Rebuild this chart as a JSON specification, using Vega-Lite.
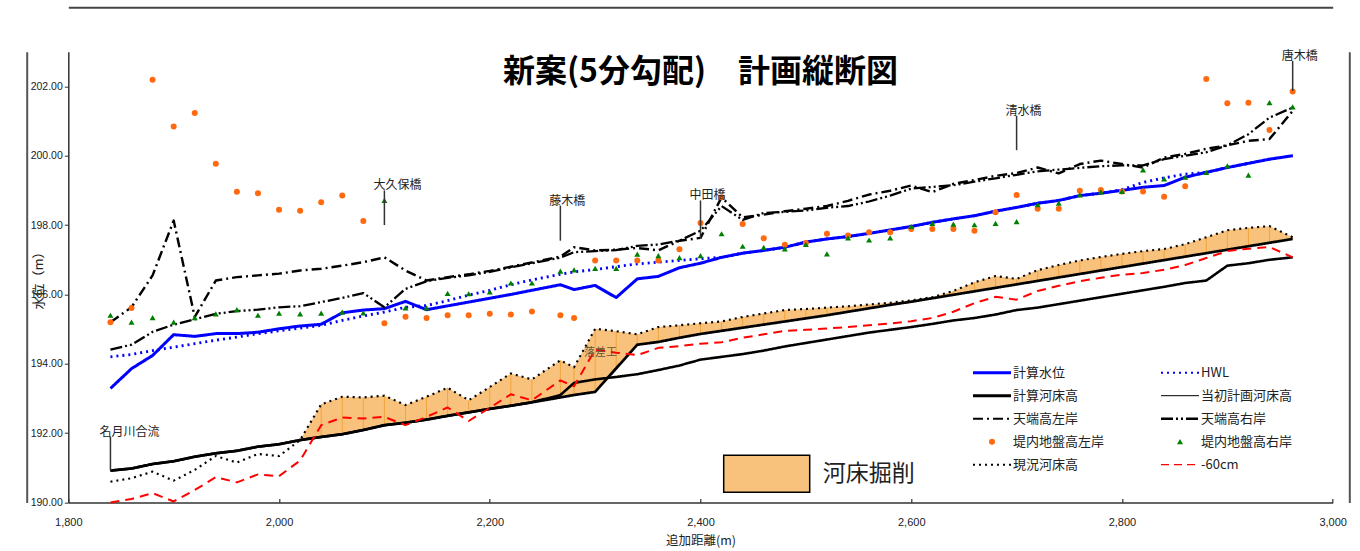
{
  "$schema": "https://vega.github.io/schema/vega-lite/v6.json",
  "width": 1264.4,
  "height": 450.8,
  "autosize": {"type": "none"},
  "padding": {"left": 68.3, "top": 51.7, "right": 27.3, "bottom": 48.5},
  "background": "white",
  "title": {"text": "新案(5分勾配)　計画縦断図", "font": "Noto Sans CJK JP", "fontSize": 32, "fontWeight": "bold", "color": "#000", "anchor": "middle", "frame": "group", "baseline": "middle", "offset": 0, "dy": 97},
  "config": {"view": {"stroke": null}, "font": "Noto Sans CJK JP"},
  "resolve": {"axis": {"x": "independent", "y": "independent"}},
  "datasets": {
    "profile": [
      {"d":1840,"計算水位":193.29,"HWL":194.20,"計算河床高":190.92,"当初計画河床高":190.92,"天端高左岸":195.20,"天端高右岸":194.41,"堤内地盤高左岸":195.20,"堤内地盤高右岸":195.40,"現況河床高":190.60,"-60cm":190.00},
      {"d":1860,"計算水位":193.86,"HWL":194.27,"計算河床高":190.98,"当初計画河床高":190.98,"天端高左岸":195.63,"天端高右岸":194.55,"堤内地盤高左岸":195.61,"堤内地盤高右岸":195.20,"現況河床高":190.70,"-60cm":190.10},
      {"d":1880,"計算水位":194.24,"HWL":194.38,"計算河床高":191.11,"当初計画河床高":191.11,"天端高左岸":196.55,"天端高右岸":194.92,"堤内地盤高左岸":202.19,"堤内地盤高右岸":195.33,"現況河床高":190.89,"-60cm":190.27},
      {"d":1900,"計算水位":194.84,"HWL":194.48,"計算河床高":191.19,"当初計画河床高":191.19,"天端高左岸":198.13,"天端高右岸":195.13,"堤内地盤高左岸":200.84,"堤内地盤高右岸":195.20,"現況河床高":190.63,"-60cm":190.03},
      {"d":1920,"計算水位":194.79,"HWL":194.58,"計算河床高":191.32,"当初計画河床高":191.32,"天端高左岸":195.35,"天端高右岸":195.28,"堤内地盤高左岸":201.23,"堤内地盤高右岸":195.33,"現況河床高":190.94,"-60cm":190.36},
      {"d":1940,"計算水位":194.87,"HWL":194.68,"計算河床高":191.42,"当初計画河床高":191.42,"天端高左岸":196.40,"天端高右岸":195.44,"堤内地盤高左岸":199.77,"堤内地盤高右岸":195.44,"現況河床高":191.34,"-60cm":190.73},
      {"d":1960,"計算水位":194.87,"HWL":194.77,"計算河床高":191.49,"当初計画河床高":191.49,"天端高左岸":196.50,"天端高右岸":195.52,"堤内地盤高左岸":198.96,"堤内地盤高右岸":195.56,"現況河床高":191.15,"-60cm":190.58},
      {"d":1980,"計算水位":194.91,"HWL":194.87,"計算河床高":191.61,"当初計画河床高":191.61,"天端高左岸":196.55,"天端高右岸":195.56,"堤内地盤高左岸":198.92,"堤内地盤高右岸":195.40,"現況河床高":191.40,"-60cm":190.81},
      {"d":2000,"計算水位":195.01,"HWL":194.95,"計算河床高":191.68,"当初計画河床高":191.68,"天端高左岸":196.60,"天端高右岸":195.63,"堤内地盤高左岸":198.44,"堤内地盤高右岸":195.46,"現況河床高":191.34,"-60cm":190.76},
      {"d":2020,"計算水位":195.09,"HWL":195.03,"計算河床高":191.80,"当初計画河床高":191.80,"天端高左岸":196.69,"天端高右岸":195.66,"堤内地盤高左岸":198.41,"堤内地盤高右岸":195.44,"現況河床高":191.80,"-60cm":191.21},
      {"d":2040,"計算水位":195.14,"HWL":195.11,"計算河床高":191.89,"当初計画河床高":191.89,"天端高左岸":196.74,"天端高右岸":195.78,"堤内地盤高左岸":198.66,"堤内地盤高右岸":195.46,"現況河床高":192.83,"-60cm":192.23},
      {"d":2060,"計算水位":195.47,"HWL":195.25,"計算河床高":191.97,"当初計画河床高":191.97,"天端高左岸":196.83,"天端高右岸":195.90,"堤内地盤高左岸":198.85,"堤内地盤高右岸":195.49,"現況河床高":193.05,"-60cm":192.45},
      {"d":2080,"計算水位":195.55,"HWL":195.38,"計算河床高":192.09,"当初計画河床高":192.09,"天端高左岸":196.93,"天端高右岸":196.04,"堤内地盤高左岸":198.12,"堤内地盤高右岸":195.47,"現況河床高":193.03,"-60cm":192.42},
      {"d":2100,"計算水位":195.59,"HWL":195.49,"計算河床高":192.23,"当初計画河床高":192.23,"天端高左岸":197.07,"天端高右岸":195.63,"堤内地盤高左岸":195.17,"堤内地盤高右岸":198.71,"現況河床高":193.08,"-60cm":192.47},
      {"d":2120,"計算水位":195.80,"HWL":195.63,"計算河床高":192.30,"当初計画河床高":192.30,"天端高左岸":196.69,"天端高右岸":196.16,"堤内地盤高左岸":195.36,"堤内地盤高右岸":195.61,"現況河床高":192.81,"-60cm":192.23},
      {"d":2140,"計算水位":195.56,"HWL":195.68,"計算河床高":192.39,"当初計画河床高":192.39,"天端高左岸":196.40,"天端高右岸":196.38,"堤内地盤高左岸":195.32,"堤内地盤高右岸":195.61,"現況河床高":193.05,"-60cm":192.47},
      {"d":2160,"計算水位":195.67,"HWL":195.82,"計算河床高":192.50,"当初計画河床高":192.50,"天端高左岸":196.50,"天端高右岸":196.48,"堤内地盤高左岸":195.40,"堤内地盤高右岸":196.03,"現況河床高":193.31,"-60cm":192.74},
      {"d":2180,"計算水位":195.78,"HWL":195.98,"計算河床高":192.60,"当初計画河床高":192.60,"天端高左岸":196.58,"天端高右岸":196.55,"堤内地盤高左岸":195.40,"堤内地盤高右岸":196.02,"現況河床高":192.95,"-60cm":192.35},
      {"d":2200,"計算水位":195.89,"HWL":196.12,"計算河床高":192.70,"当初計画河床高":192.70,"天端高左岸":196.68,"天端高右岸":196.65,"堤内地盤高左岸":195.44,"堤内地盤高右岸":196.07,"現況河床高":193.33,"-60cm":192.73},
      {"d":2220,"計算水位":196.00,"HWL":196.28,"計算河床高":192.79,"当初計画河床高":192.79,"天端高左岸":196.80,"天端高右岸":196.78,"堤内地盤高左岸":195.42,"堤内地盤高右岸":196.33,"現況河床高":193.72,"-60cm":193.12},
      {"d":2240,"計算水位":196.12,"HWL":196.42,"計算河床高":192.89,"当初計画河床高":192.89,"天端高左岸":196.92,"天端高右岸":196.90,"堤内地盤高左岸":195.51,"堤内地盤高右岸":196.33,"現況河床高":193.55,"-60cm":192.95},
      {"d":2267,"計算水位":196.28,"HWL":196.58,"計算河床高":193.03,"当初計画河床高":193.10,"天端高左岸":197.09,"天端高右岸":197.06,"堤内地盤高左岸":195.40,"堤内地盤高右岸":196.67,"現況河床高":194.10,"-60cm":193.52},
      {"d":2280,"計算水位":196.14,"HWL":196.65,"計算河床高":193.10,"当初計画河床高":193.45,"天端高左岸":197.36,"天端高右岸":197.22,"堤内地盤高左岸":195.32,"堤内地盤高右岸":196.71,"現況河床高":193.90,"-60cm":193.35},
      {"d":2300,"計算水位":196.26,"HWL":196.72,"計算河床高":193.19,"当初計画河床高":193.55,"天端高左岸":197.27,"天端高右岸":197.25,"堤内地盤高左岸":196.98,"堤内地盤高右岸":196.75,"現況河床高":195.01,"-60cm":194.41},
      {"d":2320,"計算水位":195.91,"HWL":196.80,"計算河床高":193.87,"当初計画河床高":193.62,"天端高左岸":197.29,"天端高右岸":197.28,"堤内地盤高左岸":196.98,"堤内地盤高右岸":196.75,"現況河床高":194.94,"-60cm":194.32},
      {"d":2340,"計算水位":196.45,"HWL":196.88,"計算河床高":194.55,"当初計画河床高":193.70,"天端高左岸":197.34,"天端高右岸":197.40,"堤内地盤高左岸":196.98,"堤内地盤高右岸":197.16,"現況河床高":194.85,"-60cm":194.25},
      {"d":2360,"計算水位":196.52,"HWL":196.93,"計算河床高":194.63,"当初計画河床高":193.82,"天端高左岸":197.27,"天端高右岸":197.44,"堤内地盤高左岸":196.98,"堤内地盤高右岸":197.12,"現況河床高":195.06,"-60cm":194.46},
      {"d":2380,"計算水位":196.77,"HWL":196.98,"計算河床高":194.75,"当初計画河床高":193.95,"天端高左岸":197.55,"天端高右岸":197.55,"堤内地盤高左岸":197.30,"堤内地盤高右岸":197.06,"現況河床高":195.11,"-60cm":194.51},
      {"d":2400,"計算水位":196.90,"HWL":197.03,"計算河床高":194.86,"当初計画河床高":194.12,"天端高左岸":197.63,"天端高右岸":197.84,"堤内地盤高左岸":198.06,"堤内地盤高右岸":197.12,"現況河床高":195.17,"-60cm":194.58},
      {"d":2420,"計算水位":197.07,"HWL":197.07,"計算河床高":194.95,"当初計画河床高":194.20,"天端高左岸":198.80,"天端高右岸":198.55,"堤内地盤高左岸":198.80,"堤内地盤高右岸":197.75,"現況河床高":195.22,"-60cm":194.62},
      {"d":2440,"計算水位":197.19,"HWL":197.19,"計算河床高":195.04,"当初計画河床高":194.28,"天端高左岸":198.22,"天端高右岸":198.15,"堤内地盤高左岸":198.03,"堤内地盤高右岸":197.39,"現況河床高":195.35,"-60cm":194.75},
      {"d":2460,"計算水位":197.27,"HWL":197.27,"計算河床高":195.13,"当初計画河床高":194.38,"天端高左岸":198.30,"天端高右岸":198.35,"堤内地盤高左岸":197.62,"堤内地盤高右岸":197.36,"現況河床高":195.45,"-60cm":194.85},
      {"d":2480,"計算水位":197.36,"HWL":197.36,"計算河床高":195.22,"当初計画河床高":194.50,"天端高左岸":198.40,"天端高右岸":198.38,"堤内地盤高左岸":197.43,"堤内地盤高右岸":197.31,"現況河床高":195.55,"-60cm":194.95},
      {"d":2500,"計算水位":197.51,"HWL":197.51,"計算河床高":195.31,"当初計画河床高":194.60,"天端高左岸":198.47,"天端高右岸":198.42,"堤内地盤高左岸":197.48,"堤内地盤高右岸":197.44,"現況河床高":195.58,"-60cm":194.98},
      {"d":2520,"計算水位":197.60,"HWL":197.60,"計算河床高":195.40,"当初計画河床高":194.70,"天端高左岸":198.55,"天端高右岸":198.50,"堤内地盤高左岸":197.75,"堤内地盤高右岸":197.17,"現況河床高":195.62,"-60cm":195.02},
      {"d":2540,"計算水位":197.67,"HWL":197.67,"計算河床高":195.50,"当初計画河床高":194.80,"天端高左岸":198.70,"天端高右岸":198.55,"堤内地盤高左岸":197.70,"堤内地盤高右岸":197.63,"現況河床高":195.66,"-60cm":195.06},
      {"d":2560,"計算水位":197.76,"HWL":197.76,"計算河床高":195.60,"当初計画河床高":194.90,"天端高左岸":198.88,"天端高右岸":198.68,"堤内地盤高左岸":197.79,"堤内地盤高右岸":197.57,"現況河床高":195.71,"-60cm":195.11},
      {"d":2580,"計算水位":197.86,"HWL":197.86,"計算河床高":195.70,"当初計画河床高":194.98,"天端高左岸":198.99,"天端高右岸":198.85,"堤内地盤高左岸":197.79,"堤内地盤高右岸":197.63,"現況河床高":195.76,"-60cm":195.16},
      {"d":2600,"計算水位":197.96,"HWL":197.96,"計算河床高":195.79,"当初計画河床高":195.06,"天端高左岸":199.14,"天端高右岸":199.05,"堤内地盤高左岸":197.89,"堤内地盤高右岸":197.96,"現況河床高":195.83,"-60cm":195.23},
      {"d":2620,"計算水位":198.08,"HWL":198.08,"計算河床高":195.89,"当初計画河床高":195.15,"天端高左岸":198.95,"天端高右岸":199.10,"堤内地盤高左岸":197.89,"堤内地盤高右岸":198.05,"現況河床高":195.92,"-60cm":195.32},
      {"d":2640,"計算水位":198.18,"HWL":198.18,"計算河床高":195.99,"当初計画河床高":195.25,"天端高左岸":199.19,"天端高右岸":199.15,"堤内地盤高左岸":197.89,"堤内地盤高右岸":198.03,"現況河床高":196.10,"-60cm":195.50},
      {"d":2660,"計算水位":198.27,"HWL":198.27,"計算河床高":196.09,"当初計画河床高":195.32,"天端高左岸":199.30,"天端高右岸":199.25,"堤内地盤高左岸":197.84,"堤内地盤高右岸":198.01,"現況河床高":196.35,"-60cm":195.75},
      {"d":2680,"計算水位":198.40,"HWL":198.40,"計算河床高":196.19,"当初計画河床高":195.42,"天端高左岸":199.42,"天端高右岸":199.35,"堤内地盤高左岸":198.37,"堤内地盤高右岸":198.05,"現況河床高":196.53,"-60cm":195.93},
      {"d":2700,"計算水位":198.51,"HWL":198.51,"計算河床高":196.29,"当初計画河床高":195.55,"天端高左岸":199.50,"天端高右岸":199.45,"堤内地盤高左岸":198.87,"堤内地盤高右岸":198.10,"現況河床高":196.45,"-60cm":195.85},
      {"d":2720,"計算水位":198.63,"HWL":198.63,"計算河床高":196.39,"当初計画河床高":195.62,"天端高左岸":199.66,"天端高右岸":199.55,"堤内地盤高左岸":198.47,"堤内地盤高右岸":198.59,"現況河床高":196.70,"-60cm":196.10},
      {"d":2740,"計算水位":198.71,"HWL":198.71,"計算河床高":196.49,"当初計画河床高":195.72,"天端高左岸":199.49,"天端高右岸":199.60,"堤内地盤高左岸":198.47,"堤内地盤高右岸":198.63,"現況河床高":196.85,"-60cm":196.25},
      {"d":2760,"計算水位":198.85,"HWL":198.85,"計算河床高":196.59,"当初計画河床高":195.82,"天端高左岸":199.76,"天端高右岸":199.65,"堤内地盤高左岸":198.99,"堤内地盤高右岸":198.87,"現況河床高":196.98,"-60cm":196.38},
      {"d":2780,"計算水位":198.92,"HWL":198.92,"計算河床高":196.69,"当初計画河床高":195.92,"天端高左岸":199.86,"天端高右岸":199.70,"堤内地盤高左岸":199.01,"堤内地盤高右岸":198.96,"現況河床高":197.08,"-60cm":196.48},
      {"d":2800,"計算水位":199.00,"HWL":199.02,"計算河床高":196.79,"当初計画河床高":196.02,"天端高左岸":199.76,"天端高右岸":199.72,"堤内地盤高左岸":198.97,"堤内地盤高右岸":198.97,"現況河床高":197.17,"-60cm":196.57},
      {"d":2820,"計算水位":199.09,"HWL":199.23,"計算河床高":196.89,"当初計画河床高":196.12,"天端高左岸":199.66,"天端高右岸":199.72,"堤内地盤高左岸":198.97,"堤内地盤高右岸":199.59,"現況河床高":197.25,"-60cm":196.62},
      {"d":2840,"計算水位":199.14,"HWL":199.36,"計算河床高":196.99,"当初計画河床高":196.22,"天端高左岸":199.95,"天端高右岸":199.90,"堤内地盤高左岸":198.82,"堤内地盤高右岸":199.33,"現況河床高":197.31,"-60cm":196.71},
      {"d":2860,"計算水位":199.38,"HWL":199.47,"計算河床高":197.09,"当初計画河床高":196.33,"天端高左岸":200.05,"天端高右岸":200.00,"堤内地盤高左岸":199.12,"堤内地盤高右岸":199.38,"現況河床高":197.45,"-60cm":196.85},
      {"d":2880,"計算水位":199.52,"HWL":199.52,"計算河床高":197.19,"当初計画河床高":196.40,"天端高左岸":200.20,"天端高右岸":200.10,"堤内地盤高左岸":202.21,"堤内地盤高右岸":199.52,"現況河床高":197.65,"-60cm":197.05},
      {"d":2900,"計算水位":199.66,"HWL":199.66,"計算河床高":197.29,"当初計画河床高":196.83,"天端高左岸":200.30,"天端高右岸":200.30,"堤内地盤高左岸":201.51,"堤内地盤高右岸":199.71,"現況河床高":197.85,"-60cm":197.25},
      {"d":2920,"計算水位":199.78,"HWL":199.78,"計算河床高":197.39,"当初計画河床高":196.90,"天端高左岸":200.43,"天端高右岸":200.62,"堤内地盤高左岸":201.53,"堤内地盤高右岸":199.44,"現況河床高":197.92,"-60cm":197.32},
      {"d":2940,"計算水位":199.90,"HWL":199.90,"計算河床高":197.49,"当初計画河床高":197.00,"天端高左岸":200.48,"天端高右岸":201.10,"堤内地盤高左岸":200.74,"堤内地盤高右岸":201.53,"現況河床高":197.97,"-60cm":197.37},
      {"d":2962,"計算水位":200.00,"HWL":200.00,"計算河床高":197.60,"当初計画河床高":197.07,"天端高左岸":201.29,"天端高右岸":201.39,"堤内地盤高左岸":201.85,"堤内地盤高右岸":201.41,"現況河床高":197.65,"-60cm":197.07}
    ],
    "bridges": [
      {"d":1840,"y0":190.92,"y1":191.90,"label":"名月川合流"},
      {"d":2100,"y0":198.00,"y1":199.00,"label":"大久保橋"},
      {"d":2267,"y0":197.55,"y1":198.56,"label":"藤木橋"},
      {"d":2400,"y0":197.60,"y1":198.71,"label":"中田橋"},
      {"d":2700,"y0":200.16,"y1":201.15,"label":"清水橋"},
      {"d":2962,"y0":201.87,"y1":202.73,"label":"唐木橋"}
    ],
    "notes": [
      {"d":2305,"z":194.30,"label":"落差工"}
    ]
  },
  "layer": [
    {
      "data": {"name": "profile"},
      "transform": [{"filter": "datum.d >= 2020"}],
      "mark": {"type": "area", "interpolate": "linear"},
      "encoding": {
        "x": {"field": "d", "type": "quantitative", "scale": {"domain": [1800, 3000], "nice": false, "zero": false},
          "axis": {"orient": "bottom", "values": [1800, 2000, 2200, 2400, 2600, 2800, 3000], "labelExpr": "format(datum.value, ',')", "labelFont": "Liberation Sans", "labelFontSize": 11, "labelColor": "#222", "domainColor": "#333", "domainWidth": 1.5, "tickColor": "#333", "tickSize": -4, "tickWidth": 1.2, "labelPadding": 18, "labelFlush": false, "grid": false,
            "title": "追加距離(m)", "titleFont": "Noto Sans CJK JP", "titleFontSize": 12.5, "titleFontWeight": "normal", "titleColor": "#222", "titlePadding": 7}},
        "y": {"field": "現況河床高", "type": "quantitative", "scale": {"domain": [190, 203], "nice": false, "zero": false},
          "axis": {"orient": "left", "values": [190, 192, 194, 196, 198, 200, 202], "labelExpr": "format(datum.value, '.2f')", "labelFont": "Liberation Sans", "labelFontSize": 10.5, "labelColor": "#222", "domainColor": "#333", "domainWidth": 1.5, "tickColor": "#333", "tickSize": 4, "labelPadding": 2, "grid": false,
            "title": "水位（m）", "titleFont": "Noto Sans CJK JP", "titleFontSize": 13, "titleFontWeight": "normal", "titleColor": "#222", "titleX": -30, "titleY": 225.4, "titleAlign": "center", "titleBaseline": "middle", "titleAngle": -90}},
        "y2": {"field": "計算河床高"},
        "fill": {"datum": "河床掘削", "type": "nominal", "scale": {"range": ["#F8C27C"]},
          "legend": {"orient": "none", "legendX": 654.4, "legendY": 378, "title": null, "padding": 0, "symbolType": "M-1,-0.43H1V0.43H-1Z", "symbolSize": 7396, "symbolStrokeColor": "#000", "symbolStrokeWidth": 1.5, "symbolOpacity": 1, "labelFont": "Noto Sans CJK JP", "labelFontSize": 23, "labelColor": "#222", "labelOffset": 12,
            "encode": {"symbols": {"update": {"stroke": {"value": "#000"}, "strokeWidth": {"value": 1.5}}}}}}
      }
    },
    {
      "data": {"name": "profile"},
      "transform": [{"filter": "datum.d >= 2040"}],
      "mark": {"type": "rule", "color": "#F2A43A", "strokeWidth": 1},
      "encoding": {
        "x": {"field": "d", "type": "quantitative", "axis": null},
        "y": {"field": "現況河床高", "type": "quantitative", "axis": null},
        "y2": {"field": "計算河床高"}
      }
    },
    {
      "data": {"name": "profile"},
      "transform": [{"fold": ["計算水位", "HWL", "計算河床高", "当初計画河床高", "天端高左岸", "天端高右岸", "現況河床高", "-60cm"], "as": ["series", "elev"]}],
      "mark": {"type": "line", "strokeCap": "butt", "strokeJoin": "round"},
      "encoding": {
        "x": {"field": "d", "type": "quantitative", "axis": null},
        "y": {"field": "elev", "type": "quantitative", "axis": null},
        "color": {"field": "series", "type": "nominal",
          "scale": {"domain": ["計算水位", "計算河床高", "天端高左岸", "堤内地盤高左岸", "現況河床高", "HWL", "当初計画河床高", "天端高右岸", "堤内地盤高右岸", "-60cm"],
                    "range": ["#0000FF", "#000000", "#000000", "#FF6A10", "#000000", "#0000FF", "#000000", "#000000", "#008000", "#FF0000"]},
          "legend": {"orient": "none", "legendX": 904.7, "legendY": 321, "columns": 2, "columnPadding": 51, "rowPadding": 10, "title": null, "padding": 0, "symbolType": "stroke", "symbolSize": 1444, "labelFont": "Noto Sans CJK JP", "labelFontSize": 13, "labelColor": "#222", "labelOffset": 2,
            "encode": {
              "labels": {"update": {"x": {"value": 40}}},
              "symbols": {"update": {
              "x": {"value": 19},
              "shape": {"signal": "datum.value === '堤内地盤高左岸' ? 'circle' : (datum.value === '堤内地盤高右岸' ? 'triangle-up' : 'stroke')"},
              "size": {"signal": "(datum.value === '堤内地盤高左岸' || datum.value === '堤内地盤高右岸') ? 36 : 1444"},
              "fill": {"signal": "datum.value === '堤内地盤高左岸' ? '#FF6A10' : (datum.value === '堤内地盤高右岸' ? '#008000' : 'transparent')"},
              "stroke": {"signal": "[ '#0000FF', '#0000FF', '#000000', '#000000', '#000000', '#000000', '#FF6A10', '#008000', '#000000', '#FF0000'][indexof(['計算水位', 'HWL', '計算河床高', '当初計画河床高', '天端高左岸', '天端高右岸', '堤内地盤高左岸', '堤内地盤高右岸', '現況河床高', '-60cm'], datum.value)]"},
              "strokeWidth": {"signal": "[3, 2, 3, 1, 2, 2.5, 0, 0, 2, 1.2][indexof(['計算水位', 'HWL', '計算河床高', '当初計画河床高', '天端高左岸', '天端高右岸', '堤内地盤高左岸', '堤内地盤高右岸', '現況河床高', '-60cm'], datum.value)]"},
              "strokeDash": {"signal": "[[1,0], [2,4], [1,0], [1,0], [10,4,2,4], [12,3,2,3,2,3], [1,0], [1,0], [2,4], [8,5]][indexof(['計算水位', 'HWL', '計算河床高', '当初計画河床高', '天端高左岸', '天端高右岸', '堤内地盤高左岸', '堤内地盤高右岸', '現況河床高', '-60cm'], datum.value)]"},
              "opacity": {"value": 1}
            }}}}},
        "strokeDash": {"field": "series", "type": "nominal", "legend": null,
          "scale": {"domain": ["計算水位", "HWL", "計算河床高", "当初計画河床高", "天端高左岸", "天端高右岸", "現況河床高", "-60cm"],
                    "range": [[1, 0], [2, 4], [1, 0], [1, 0], [10, 4, 2, 4], [12, 3, 2, 3, 2, 3], [2, 4], [9, 6]]}},
        "strokeWidth": {"field": "series", "type": "ordinal", "legend": null,
          "scale": {"domain": ["計算水位", "HWL", "計算河床高", "当初計画河床高", "天端高左岸", "天端高右岸", "現況河床高", "-60cm"],
                    "range": [3, 2, 3.2, 1, 1.6, 2, 2, 1.2]}}
      }
    },
    {
      "data": {"name": "profile"},
      "transform": [{"fold": ["堤内地盤高左岸", "堤内地盤高右岸"], "as": ["series", "elev"]}],
      "mark": {"type": "point", "filled": true, "size": 36, "opacity": 1},
      "encoding": {
        "x": {"field": "d", "type": "quantitative", "axis": null},
        "y": {"field": "elev", "type": "quantitative", "axis": null},
        "color": {"field": "series", "type": "nominal"},
        "shape": {"field": "series", "type": "nominal", "legend": null,
          "scale": {"domain": ["堤内地盤高左岸", "堤内地盤高右岸"], "range": ["circle", "triangle-up"]}}
      }
    },
    {
      "data": {"name": "bridges"},
      "mark": {"type": "rule", "color": "#333", "strokeWidth": 1.5},
      "encoding": {
        "x": {"field": "d", "type": "quantitative", "axis": null},
        "y": {"field": "y0", "type": "quantitative",
          "axis": {"orient": "left", "offset": 41.6, "domain": true, "domainColor": "#555", "domainWidth": 2, "labels": false, "ticks": false, "grid": false, "title": null}},
        "y2": {"field": "y1"}
      }
    },
    {
      "data": {"name": "bridges"},
      "mark": {"type": "text", "align": "left", "baseline": "middle", "dx": -11, "dy": -5, "font": "Noto Sans CJK JP", "fontSize": 12, "color": "#222"},
      "encoding": {
        "x": {"field": "d", "type": "quantitative", "axis": null},
        "y": {"field": "y1", "type": "quantitative",
          "axis": {"orient": "right", "offset": 16.6, "domain": true, "domainColor": "#555", "domainWidth": 2, "labels": false, "ticks": false, "grid": false, "title": null}},
        "text": {"field": "label"}
      }
    },
    {
      "data": {"name": "notes"},
      "mark": {"type": "text", "align": "center", "baseline": "middle", "font": "Noto Sans CJK JP", "fontSize": 11, "color": "#6a5236"},
      "encoding": {
        "x": {"field": "d", "type": "quantitative",
          "axis": {"orient": "top", "offset": 44.4, "domain": true, "domainColor": "#444", "domainWidth": 2, "labels": false, "ticks": false, "grid": false, "title": null}},
        "y": {"field": "z", "type": "quantitative", "axis": null},
        "text": {"field": "label"}
      }
    }
  ]
}
